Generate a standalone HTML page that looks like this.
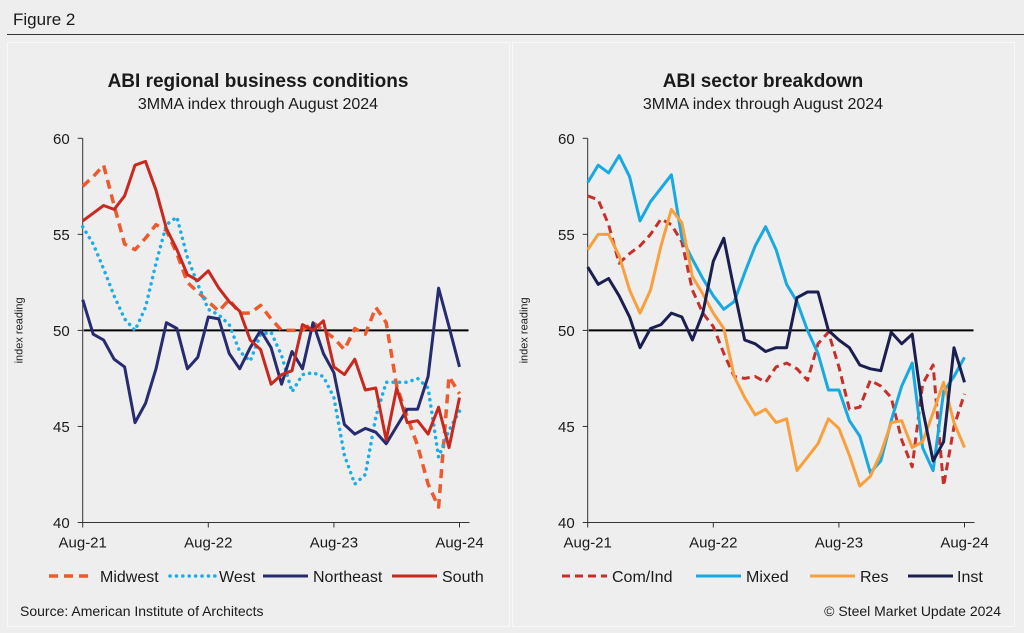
<!DOCTYPE html>
<html><head><meta charset="utf-8">
<style>
html,body{margin:0;padding:0;background:#eeeeee;}
body{width:1024px;height:633px;position:relative;overflow:hidden;font-family:"Liberation Sans",Arial,sans-serif;}
svg{position:absolute;left:0;top:0;}
text{font-family:"Liberation Sans",Arial,sans-serif;fill:#1a1a1a;}
</style></head>
<body>
<svg id="svg" width="1024" height="633" viewBox="0 0 1024 633">
  <text x="13" y="25" font-size="17">Figure 2</text>
  <line x1="7" y1="34.5" x2="1024" y2="34.5" stroke="#333" stroke-width="1"/>
  <rect x="7.5" y="42.5" width="502" height="584" fill="#eeeeee" stroke="#f8f8f8" stroke-width="1"/>
  <rect x="512.5" y="42.5" width="502" height="584" fill="#eeeeee" stroke="#f8f8f8" stroke-width="1"/>
  <text x="258" y="87" font-size="19" font-weight="bold" text-anchor="middle">ABI regional business conditions</text>
  <text x="258" y="109" font-size="16" text-anchor="middle">3MMA index through August 2024</text>
  <text x="763" y="87" font-size="19" font-weight="bold" text-anchor="middle">ABI sector breakdown</text>
  <text x="763" y="109" font-size="16" text-anchor="middle">3MMA index through August 2024</text>
  <text x="20" y="616" font-size="14">Source: American Institute of Architects</text>
  <text x="1001" y="616" font-size="14" text-anchor="end">© Steel Market Update 2024</text>
  <g id="left"></g>
  <g id="right"></g>
</svg>
<script>
const xTickLabels = ["Aug-21","Aug-22","Aug-23","Aug-24"];
const yTickLabels = [40,45,50,55,60];
const refValue = 50;

const midwest = [57.5,58.0,58.6,56.5,54.5,54.2,54.8,55.5,55.2,54.0,52.5,52.0,51.5,51.0,51.6,50.9,50.9,51.3,50.6,50.0,50.0,50.0,50.4,50.0,49.6,49.0,50.1,49.8,51.2,50.4,47.1,45.5,44.0,42.0,40.8,47.6,46.7];
const west = [55.4,54.5,53.2,51.8,50.6,50.0,51.2,53.5,55.5,55.9,53.8,52.4,51.1,50.8,50.3,48.9,48.4,49.8,49.9,48.7,46.8,47.7,47.8,47.6,46.5,43.5,42.0,42.5,45.5,47.3,47.3,47.3,47.5,47.0,43.4,44.8,45.8];
const northeast = [51.6,49.8,49.5,48.5,48.1,45.2,46.2,48.0,50.4,50.1,48.0,48.6,50.7,50.6,48.8,48.0,49.1,50.0,49.1,47.2,48.9,48.0,50.4,48.8,47.8,45.1,44.6,44.9,44.7,44.1,45.0,45.9,45.9,47.6,52.2,50.2,48.1];
const south = [55.7,56.1,56.5,56.3,57.0,58.6,58.8,57.3,55.3,54.2,52.9,52.6,53.1,52.2,51.5,51.0,49.5,49.0,47.2,47.7,47.9,50.3,50.0,50.5,48.1,47.7,48.5,46.9,47.0,44.3,47.0,45.2,45.3,44.6,46.0,43.9,46.5];

const comInd = [57.0,56.8,55.5,53.5,54.0,54.4,55.0,55.8,55.5,54.6,52.1,50.9,50.2,48.8,47.6,47.5,47.6,47.3,48.1,48.3,48.0,47.4,49.3,49.9,48.1,45.9,46.0,47.4,47.1,46.5,44.3,42.9,47.2,48.2,41.9,45.0,46.7];
const mixed = [57.7,58.6,58.2,59.1,58.0,55.7,56.7,57.4,58.1,54.8,53.7,52.7,51.8,51.1,51.5,53.0,54.4,55.4,54.2,52.4,51.5,50.0,48.8,46.9,46.9,45.3,44.5,42.6,43.2,45.3,47.1,48.3,43.9,42.7,46.8,47.6,48.6];
const res = [54.2,55.0,55.0,53.9,52.1,50.9,52.1,54.4,56.3,55.6,52.8,51.9,50.9,50.1,47.6,46.5,45.6,45.9,45.2,45.4,42.7,43.4,44.1,45.4,44.9,43.5,41.9,42.4,43.6,45.2,45.3,43.9,44.2,45.7,47.3,45.2,43.9];
const inst = [53.3,52.4,52.7,51.8,50.7,49.1,50.1,50.3,50.9,50.7,49.5,50.9,53.6,54.8,52.1,49.5,49.3,48.9,49.1,49.1,51.7,52.0,52.0,50.0,49.5,49.1,48.2,48.0,47.9,49.9,49.3,49.8,45.9,43.2,44.2,49.1,47.3];

const leftSeries = [
  {name:"Midwest",data:midwest,color:"#ef5a2c",dash:"9,6",cap:"butt",w:3.5},
  {name:"West",data:west,color:"#19aee8",dash:"0.1,6.3",cap:"round",w:3.5},
  {name:"Northeast",data:northeast,color:"#272b6f",dash:null,cap:"butt",w:3},
  {name:"South",data:south,color:"#c9281f",dash:null,cap:"butt",w:3}
];
const rightSeries = [
  {name:"Com/Ind",data:comInd,color:"#c92f2a",dash:"8,5",cap:"butt",w:3},
  {name:"Mixed",data:mixed,color:"#17a9e2",dash:null,cap:"butt",w:3},
  {name:"Res",data:res,color:"#f9a03c",dash:null,cap:"butt",w:3},
  {name:"Inst",data:inst,color:"#1b1f4f",dash:null,cap:"butt",w:3}
];
const NS="http://www.w3.org/2000/svg";
function mk(tag,attrs,parent){const e=document.createElementNS(NS,tag);for(const k in attrs)e.setAttribute(k,attrs[k]);parent.appendChild(e);return e;}

function drawChart(g,x0,series,legendPos,prefix){
  const yTop=138.3,yBot=522.5,xEnd=x0+376.8;
  const yMin=40,yMax=60,nMonths=36;
  const xs=i=>x0+(xEnd-x0)*i/nMonths;
  const ys=v=>yBot-(v-yMin)/(yMax-yMin)*(yBot-yTop);
  // axes
  const ax=mk('line',{x1:x0,y1:yTop,x2:x0,y2:yBot,stroke:'#333','stroke-width':1},g);
  
  
  const bx=mk('line',{x1:x0,y1:yBot,x2:xEnd+10,y2:yBot,stroke:'#333','stroke-width':1},g);
  
  
  yTickLabels.forEach(v=>{
    const y=ys(v);
    const t=mk('line',{x1:x0-5,y1:y,x2:x0,y2:y,stroke:'#333','stroke-width':1},g);
    
    
    const l=mk('text',{x:x0-13,y:y+5.5,'font-size':15,'text-anchor':'end'},g);
    l.textContent=v;
    
    
  });
  xTickLabels.forEach((lab,i)=>{
    const x=xs(i*12);
    const t=mk('line',{x1:x,y1:yBot,x2:x,y2:yBot+5,stroke:'#333','stroke-width':1},g);
    
    
    const l=mk('text',{x:x,y:yBot+25,'font-size':15,'text-anchor':'middle'},g);
    l.textContent=lab;
    
    
  });
  const yt=mk('text',{x:0,y:0,'font-size':11,'text-anchor':'middle',fill:'#333',transform:`translate(${x0-60},${ys(50)}) rotate(-90)`},g);
  yt.textContent='index reading';
  
  
  const ref=mk('line',{x1:x0+1,y1:ys(refValue),x2:xEnd+9,y2:ys(refValue),stroke:'#000','stroke-width':2},g);
  
  
  series.forEach(s=>{
    const pts=s.data.map((v,i)=>xs(i).toFixed(1)+','+ys(v).toFixed(1)).join(' ');
    const a={points:pts,fill:'none',stroke:s.color,'stroke-width':s.w,'stroke-linejoin':'round','stroke-linecap':s.cap};
    if(s.dash)a['stroke-dasharray']=s.dash;
    const p=mk('polyline',a,g);
    
    
  });
  series.forEach((s,i)=>{
    const [lx,tx]=legendPos[i], ly=576;
    const a={x1:lx,y1:ly,x2:lx+45,y2:ly,stroke:s.color,'stroke-width':s.w,'stroke-linecap':s.cap};
    if(s.dash)a['stroke-dasharray']=s.dash;
    const sw=mk('line',a,g);
    
    
    const t=mk('text',{x:tx,y:ly+6,'font-size':16},g);
    t.textContent=s.name;
    
    
  });
}
drawChart(document.getElementById('left'),82.7,leftSeries,[[49,100],[170,219],[263,313],[392,442]],'left');
drawChart(document.getElementById('right'),587.7,rightSeries,[[562,612],[696,746],[810,860],[908,957]],'right');
</script>
</body></html>
